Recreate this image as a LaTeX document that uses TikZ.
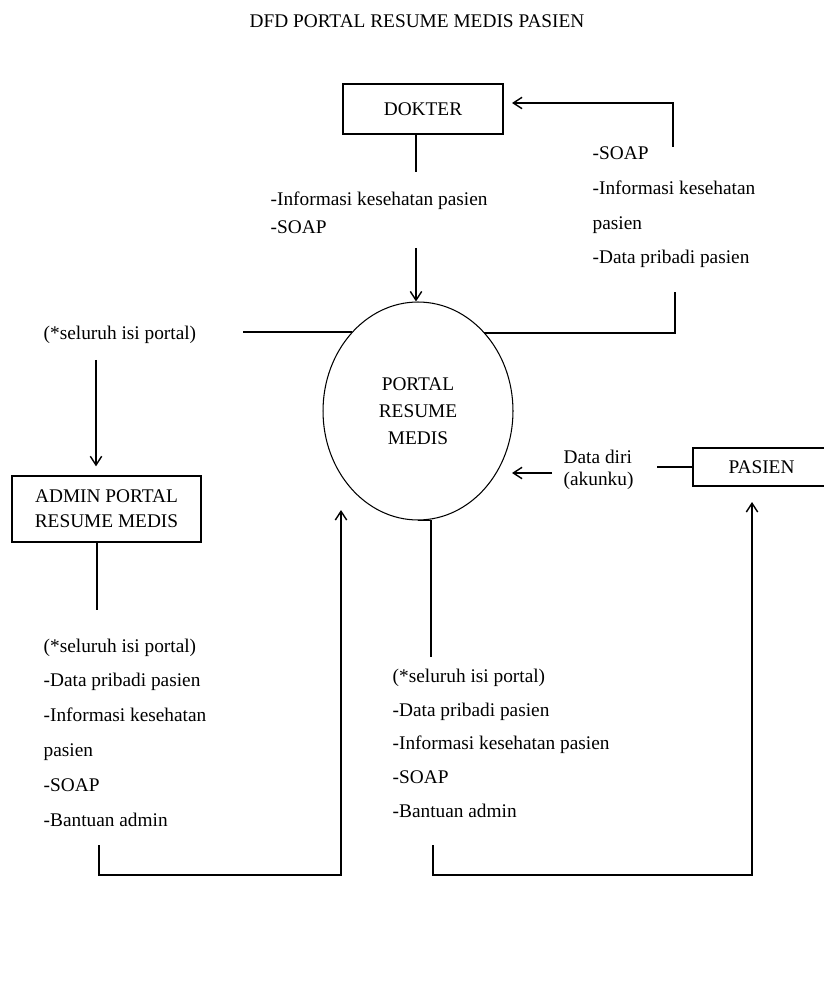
\documentclass[tikz,border=0pt]{standalone}
\usepackage{fontspec}
\setmainfont{Liberation Serif}
\usetikzlibrary{shapes,arrows.meta}

\begin{document}
\begin{tikzpicture}[x=0.02cm, y=-0.02cm, line width=0.8pt,
    ent/.style={rectangle, draw, align=center, font=\fontsize{11}{14.2}\selectfont},
    proc/.style={ellipse, draw, line width=0.6pt, minimum width=3.8cm, minimum height=4.36cm, align=center, font=\fontsize{11}{15.3}\selectfont},
    lbl/.style={anchor=north west, inner sep=0pt, align=left, font=\fontsize{11}{19.8}\selectfont},
    ar/.style={->, >={Straight Barb[length=5pt,width=6.5pt]}}]
    \useasboundingbox (0,0) rectangle (823,999);
    \node [font=\fontsize{11}{13}\selectfont] (title) at (417,21) {DFD PORTAL RESUME MEDIS PASIEN};
    % entitas dan proses
    \node [ent, minimum width=3.2cm, minimum height=1cm] (dokter) at (423,109) {DOKTER};
    \node [ent, minimum width=3.78cm, minimum height=1.32cm] (admin) at (106.5,509) {ADMIN PORTAL\\RESUME MEDIS};
    \node [ent, minimum width=2.74cm, minimum height=0.76cm] (pasien) at (761.5,467) {PASIEN};
    \node [proc] (portal) at (418,411) {PORTAL\\RESUME\\MEDIS};
    % label aliran data
    \node [lbl, font=\fontsize{11}{15.9}\selectfont] (lbldok) at (270,191) {-Informasi kesehatan pasien\\-SOAP};
    \node [lbl] (lblsoap) at (592,146) {-SOAP\\-Informasi kesehatan\\pasien\\-Data pribadi pasien};
    \node [lbl] (lblisi) at (43,325) {(*seluruh isi portal)};
    \node [lbl] (lbladmin) at (43,638) {(*seluruh isi portal)\\-Data pribadi pasien\\-Informasi kesehatan\\pasien\\-SOAP\\-Bantuan admin};
    \node [lbl, font=\fontsize{11}{19.3}\selectfont] (lblpasien) at (392,668) {(*seluruh isi portal)\\-Data pribadi pasien\\-Informasi kesehatan pasien\\-SOAP\\-Bantuan admin};
    \node [lbl, font=\fontsize{11}{12.5}\selectfont] (lbldiri) at (563,449) {Data diri\\(akunku)};
    % titik bantu
    \coordinate (d1) at (416,172);
    \coordinate (d2) at (416,248);
    \coordinate (r1) at (675,333);
    \coordinate (r2) at (675,292);
    \coordinate (r3) at (673,147);
    \coordinate (r4) at (512,103);
    \coordinate (l1) at (243,332);
    \coordinate (l2) at (96,360);
    \coordinate (a1) at (97,610);
    \coordinate (a2) at (99,845);
    \coordinate (a4) at (341,510);
    \coordinate (c1) at (431,657);
    \coordinate (c2) at (433,845);
    \coordinate (c3) at (752,502);
    \coordinate (p1) at (657,467);
    \coordinate (p2) at (552,473);
    \coordinate (p3) at (512,473);
    % aliran
    \draw (dokter.south -| d1) -- (d1);
    \draw [ar] (d2) -- (d2 |- portal.north);
    \draw (r1 -| portal.50) -- (r1) -- (r2);
    \draw [ar] (r3) |- (r4);
    \draw (l1) -- (l1 -| portal.130);
    \draw [ar] (l2) -- (l2 |- admin.north) [shorten >=0.18cm];
    \draw (admin.south -| a1) -- (a1);
    \draw [ar] (a2) -- ++(0,30) -| (a4);
    \draw (portal.south) -| (c1);
    \draw [ar] (c2) -- ++(0,30) -| (c3);
    \draw (pasien.west) -- (p1 |- pasien.west);
    \draw [ar] (p2) -- (p3);
\end{tikzpicture}
\end{document}
